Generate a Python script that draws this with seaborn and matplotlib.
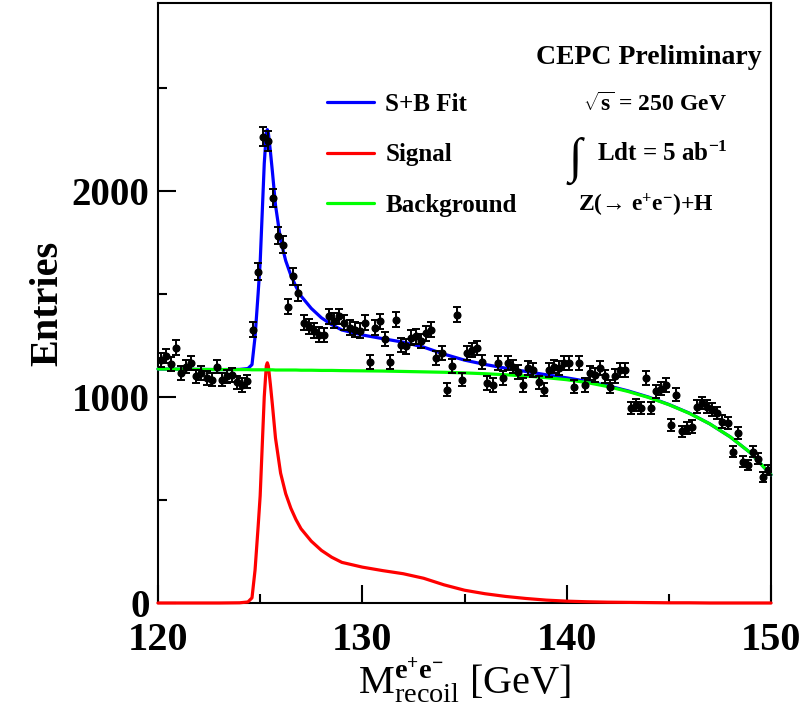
import numpy as np
import pandas as pd
import matplotlib
matplotlib.use("Agg")
import matplotlib.pyplot as plt
import seaborn as sns
from matplotlib.ticker import MultipleLocator

# Recoil-mass histogram, 0.25 GeV bins between 120 and 150 GeV
bin_lo, bin_hi, bin_width = 120.0, 150.0, 0.25
entries = [
    1180, 1197, 1160, 1238, 1117, 1147, 1165, 1099, 1115, 1090,
    1083, 1147, 1083, 1099, 1107, 1070, 1058, 1075, 1325, 1607,
    2262, 2240, 1965, 1782, 1738, 1438, 1584, 1503, 1359, 1341,
    1320, 1301, 1300, 1390, 1370, 1390, 1359, 1335, 1325, 1320,
    1359, 1171, 1335, 1366, 1280, 1171, 1374, 1252, 1245, 1286,
    1293, 1270, 1309, 1325, 1188, 1212, 1034, 1150, 1398, 1083,
    1212, 1228, 1236, 1170, 1066, 1058, 1163, 1091, 1163, 1147,
    1120, 1058, 1139, 1131, 1070, 1034, 1131, 1147, 1140, 1163,
    1163, 1050, 1163, 1058, 1115, 1107, 1139, 1099, 1050, 1100,
    1131, 1131, 945, 960, 945, 1091, 945, 1026, 1040, 1058,
    864, 1010, 832, 848, 856, 953, 970, 953, 937, 921,
    880, 872, 734, 823, 686, 670, 734, 700, 613, 646,
]

# Fitted components sampled along the recoil mass
curve_mass = [
    120, 121, 122, 123, 124, 124.4, 124.6, 124.75, 124.9,
    125.0, 125.1, 125.2, 125.3, 125.35, 125.4, 125.5, 125.6, 125.75,
    126.0, 126.25, 126.5, 126.75,
    127.0, 127.5, 128.0, 128.5, 129.0,
    130, 131, 132, 133, 134, 135, 136, 137, 138, 139, 140,
    141, 142, 143, 144, 145, 146, 147, 148, 149, 150,
]
background = [
    1135, 1134, 1133, 1132, 1132, 1132, 1131, 1131, 1131,
    1131, 1131, 1131, 1131, 1131, 1131, 1131, 1131, 1130,
    1130, 1130, 1130, 1130,
    1129, 1129, 1128, 1128, 1127,
    1126, 1125, 1123, 1121, 1119, 1116, 1112, 1107, 1101, 1093, 1083,
    1069, 1050, 1026, 997, 962, 920, 869, 806, 728, 622,
]
signal = [
    0, 0, 0, 0, 1, 5, 25, 160, 370,
    520, 760, 1000, 1150, 1165, 1150, 1060, 960, 800,
    630, 530, 460, 405,
    360, 300, 255, 222, 197,
    174, 157, 142, 120, 88, 62, 45, 32, 22, 14, 9,
    6, 4, 3, 2, 1, 1, 0, 0, 0, 0,
]

legend_labels = ["S+B Fit", "Signal", "Background"]
line_colors = ["#0000ff", "#ff0000", "#00ff00"]

sns.set_style("ticks")
plt.rcParams["font.family"] = ["Liberation Serif", "DejaVu Serif"]
plt.rcParams["mathtext.fontset"] = "custom"
plt.rcParams["mathtext.rm"] = "Liberation Serif"
plt.rcParams["mathtext.it"] = "Liberation Serif"
plt.rcParams["mathtext.bf"] = "Liberation Serif:bold"
for key in ["text.color", "axes.labelcolor", "xtick.color", "ytick.color", "axes.edgecolor"]:
    plt.rcParams[key] = "black"

W, H = 810, 707
fig = plt.figure(figsize=(W / 100, H / 100), dpi=100)
ax = fig.add_axes([158 / W, 1 - 603 / H, 613 / W, 600 / H])

centers = np.arange(bin_lo + bin_width / 2, bin_hi, bin_width)
counts = np.array(entries, dtype=float)
fit = np.array(background) + np.array(signal)

curves = pd.DataFrame({
    "mass": np.tile(curve_mass, 3),
    "value": np.concatenate([fit, signal, background]),
    "component": np.repeat(legend_labels, len(curve_mass)),
})

sns.lineplot(data=curves, x="mass", y="value", hue="component",
             hue_order=legend_labels, palette=line_colors, sort=False,
             estimator=None, linewidth=2.3, ax=ax, zorder=3)
for ln in ax.lines:
    ln.set_clip_on(False)

ax.errorbar(centers, counts, yerr=np.sqrt(counts), fmt="o", color="black",
            ms=4.8, capsize=2.6, elinewidth=1.4, capthick=1.4, zorder=5)

ax.set_xlim(bin_lo, bin_hi)
ax.set_ylim(0, 2910)
ax.xaxis.set_major_locator(MultipleLocator(10))
ax.xaxis.set_minor_locator(MultipleLocator(5))
ax.yaxis.set_major_locator(MultipleLocator(1000))
ax.yaxis.set_minor_locator(MultipleLocator(500))
ax.tick_params(which="both", direction="in", top=False, right=False, width=1.5, color="black")
ax.tick_params(which="major", length=13)
ax.tick_params(which="minor", length=6.5)
ax.tick_params(axis="y", which="major", labelsize=28, pad=6)
ax.tick_params(axis="x", which="major", labelsize=29, pad=14)
for lab in ax.get_xticklabels() + ax.get_yticklabels():
    lab.set_fontweight("bold")
for side in ["left", "right", "top", "bottom"]:
    ax.spines[side].set_visible(True)
    ax.spines[side].set_linewidth(1.5)
    ax.spines[side].set_color("black")

ax.set_xlabel(r"M$^{\mathbf{e^{+}e^{-}}}_{\mathrm{recoil}}$ [GeV]", fontsize=29, labelpad=-3)
ax.set_ylabel("Entries", fontsize=29, fontweight="bold", labelpad=4)

handles, _ = ax.get_legend_handles_labels()
ax.legend(handles=handles[:3], labels=legend_labels, loc="upper left",
          bbox_to_anchor=(0.275, 0.85), frameon=False,
          prop={"family": "Liberation Serif", "weight": "bold", "size": 18},
          handlelength=1.9, handletextpad=0.45, labelspacing=1.1,
          borderpad=0, borderaxespad=0)

bold = dict(fontweight="bold", va="center")
fig.text(762 / W, 1 - 58 / H, "CEPC Preliminary", ha="right", fontsize=20, **bold)
fig.text(583 / W, 1 - 104 / H, r"$\sqrt{\mathbf{s}}$ = 250 GeV", ha="left", fontsize=17, **bold)
fig.text(569 / W, 1 - 161 / H, "\u222b", ha="left", fontsize=35, va="center")
fig.text(597 / W, 1 - 154 / H, r"Ldt = 5 ab$^{\mathbf{-1}}$", ha="left", fontsize=18, **bold)
fig.text(578 / W, 1 - 205 / H, "Z(\u2192 e$^{\\mathbf{+}}$e$^{\\mathbf{-}}$)+H", ha="left", fontsize=17, **bold)

fig.savefig("out.png", dpi=100)
